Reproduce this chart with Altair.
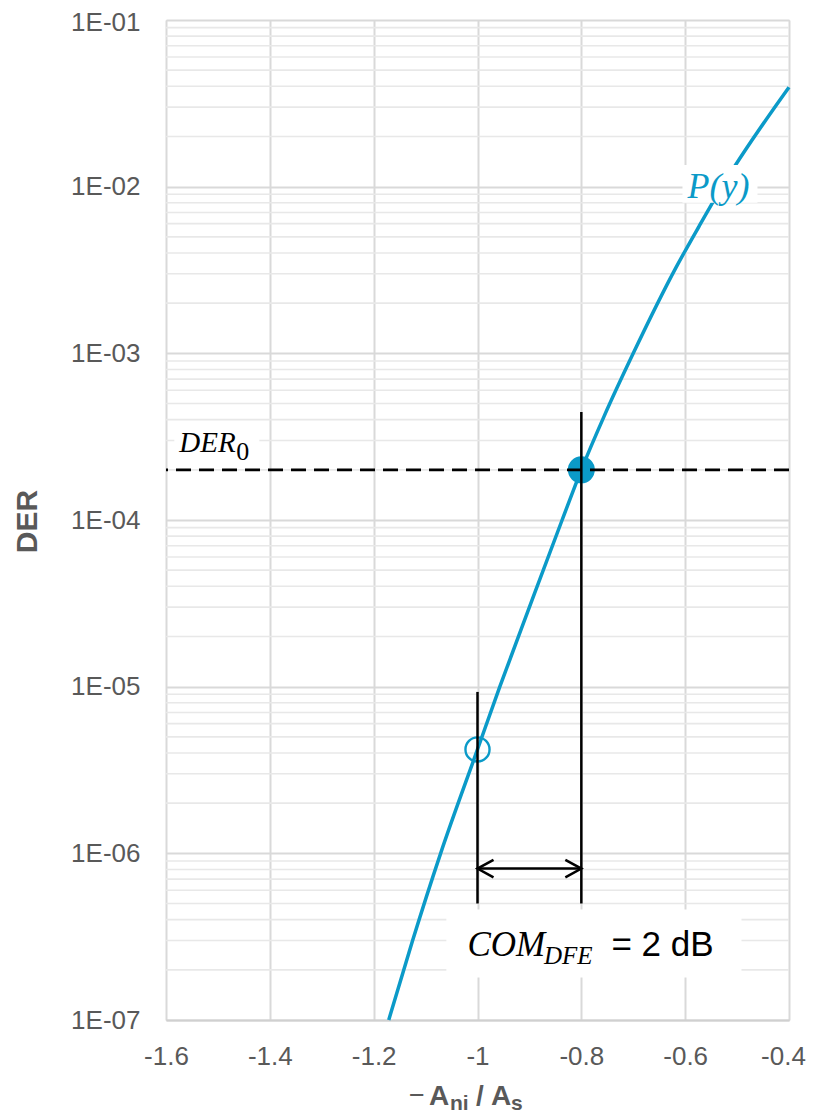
import altair as alt
import pandas as pd

# ---------------- data ----------------
curve_x = [-1.171, -1.125, -1.071, -1.000, -0.957, -0.900, -0.837, -0.800,
           -0.756, -0.700, -0.617, -0.573, -0.529, -0.400]
curve_y = [1.0e-7, 3.0e-7, 1.0e-6, 4.2e-6, 1.0e-5, 3.0e-5, 1.0e-4, 2.0e-4,
           4.2e-4, 1.0e-3, 3.3e-3, 5.8e-3, 1.0e-2, 3.95e-2]

x_ticks = [-1.6, -1.4, -1.2, -1.0, -0.8, -0.6, -0.4]
y_ticks = [1e-7, 1e-6, 1e-5, 1e-4, 1e-3, 1e-2, 1e-1]
minor_ticks = [m * d for d in y_ticks[:-1] for m in range(2, 10)]

der0 = 2e-4            # target DER
x_dfe = -0.8           # operating point (filled)
x_ref = -1.0           # reference point (open)
y_ref = 4.2e-6
vline_x = [-1.0, -0.8]
vline_top = [9.3e-6, 4.45e-4]
vline_bottom = [5.0e-7, 5.0e-7]
arrow_y = 8.1e-7

BLUE = "#0B9AC8"
GRID = "#d9d9d9"
MINOR = "#e8e8e8"
TXT = "#595959"

xs = alt.Scale(domain=[-1.6, -0.4], nice=False, zero=False)
ys = alt.Scale(type="log", domain=[1e-7, 1e-1], nice=False)

x_axis = alt.Axis(values=x_ticks, labelExpr="toString(datum.value)", grid=True,
                  gridColor=GRID, gridWidth=2, ticks=False, domain=True,
                  domainColor="#d0d0d0", domainWidth=2, labelFont="Liberation Sans",
                  labelFontSize=26, labelColor=TXT, labelPadding=23,
                  labelOffset={"condition": {"test": "datum.value > -0.45", "value": -6},
                               "value": 0},
                  labelFlush=False, labelOverlap=False, title=None)
y_axis = alt.Axis(values=y_ticks, labelExpr="'1E-0' + round(-log(datum.value)/LN10)",
                  grid=True, gridColor=GRID, gridWidth=2, ticks=False, domain=False,
                  labelFont="Liberation Sans", labelFontSize=26, labelColor=TXT,
                  labelPadding=26, labelFlush=False, labelOverlap=False,
                  labelOffset={"condition": {"test": "datum.value > 0.05", "value": 2},
                               "value": 0},
                  title="DER", titleFont="Liberation Sans", titleFontSize=30,
                  titleFontWeight="bold", titleColor=TXT, titleX=-139, titleY=501,
                  titleAngle=270, titleAlign="center", titleBaseline="middle")


def X(f="x"):
    return alt.X(f + ":Q", scale=xs, axis=x_axis)


def Y(f="y"):
    return alt.Y(f + ":Q", scale=ys, axis=y_axis)


curve_df = pd.DataFrame({"x": curve_x, "y": curve_y})

minor_layer = alt.Chart(pd.DataFrame({"y": minor_ticks})).mark_rule(
    color=MINOR, strokeWidth=1.6).encode(y=Y())

curve_layer = alt.Chart(curve_df).mark_line(
    color=BLUE, strokeWidth=3.5, interpolate="monotone").encode(x=X(), y=Y())

filled_pt = alt.Chart(pd.DataFrame({"x": [x_dfe], "y": [der0]})).mark_point(
    filled=True, color=BLUE, size=730, opacity=1, shape="circle").encode(x=X(), y=Y())
open_pt = alt.Chart(pd.DataFrame({"x": [x_ref], "y": [y_ref]})).mark_point(
    filled=False, color=BLUE, size=580, opacity=1, strokeWidth=2.4,
    shape="circle").encode(x=X(), y=Y())

dashed = alt.Chart(pd.DataFrame({"y": [der0]})).mark_rule(
    color="black", strokeWidth=2.6, strokeDash=[15, 8]).encode(y=Y())

vlines = alt.Chart(pd.DataFrame({"x": vline_x, "y": vline_bottom, "y2": vline_top})).mark_rule(
    color="black", strokeWidth=2.5).encode(x=X(), y=Y(), y2="y2:Q")

arrow_line = alt.Chart(pd.DataFrame({"x": [vline_x[0]], "x2": [vline_x[1]], "y": [arrow_y]})).mark_rule(
    color="black", strokeWidth=2.5).encode(x=X(), x2="x2:Q", y=Y())
head_l = alt.Chart(pd.DataFrame({"x": [vline_x[0]], "y": [arrow_y]})).mark_point(
    shape="M2,-1.1L0,0L2,1.1", size=256, filled=False, stroke="black", strokeWidth=2.5,
    opacity=1).encode(x=X(), y=Y())
head_r = alt.Chart(pd.DataFrame({"x": [vline_x[1]], "y": [arrow_y]})).mark_point(
    shape="M-2,-1.1L0,0L-2,1.1", size=256, filled=False, stroke="black", strokeWidth=2.5,
    opacity=1).encode(x=X(), y=Y())

# white label boxes (data coordinates)
boxes = alt.Chart(pd.DataFrame({
    "x": [-0.6052, -1.5840, -1.0600],
    "x2": [-0.4607, -1.4202, -0.4915],
    "y": [1.35e-2, 3.7e-4, 4.6e-7],
    "y2": [8.0e-3, 2.25e-4, 1.8e-7],
})).mark_rect(color="white", opacity=1).encode(x=X(), x2="x2:Q", y=Y(), y2="y2:Q")


def dtext(txt, x, y, size, font="Liberation Serif", style="italic", weight="normal",
          color="black"):
    return alt.Chart(pd.DataFrame({"x": [x], "y": [y], "t": [txt]})).mark_text(
        align="left", baseline="middle", font=font, fontSize=size, fontStyle=style,
        fontWeight=weight, color=color).encode(x=X(), y=Y(), text="t:N")


def ptext(txt, px, py, size, weight="bold", font="Liberation Sans", baseline="alphabetic"):
    return alt.Chart(pd.DataFrame({"t": [txt]})).mark_text(
        align="left", baseline=baseline, font=font, fontSize=size, fontWeight=weight,
        color=TXT).encode(x=alt.value(px), y=alt.value(py), text="t:N")


texts = [
    dtext("P(y)", -0.5956, 1.0e-2, 36, color=BLUE),
    dtext("DER", -1.5744, 2.9e-4, 29),
    dtext("0", -1.4646, 2.56e-4, 26, style="normal"),
    dtext("COM", -1.0195, 2.82e-7, 35),
    dtext("DFE", -0.8720, 2.42e-7, 25),
    dtext("= 2 dB", -0.742, 2.82e-7, 35, font="Liberation Sans", style="normal"),
    # x-axis title: −A_ni / A_s
    ptext("\u2212", 243, 1084, 27, weight="normal"),
    ptext("A", 263, 1085, 28),
    ptext("ni", 284, 1090, 21),
    ptext("/", 310, 1085, 28),
    ptext("A", 325, 1085, 28),
    ptext("s", 345, 1090, 21),
]

chart = alt.layer(
    minor_layer, curve_layer, filled_pt, open_pt, dashed, vlines, arrow_line,
    head_l, head_r, boxes, *texts
).properties(
    width=623, height=1000,
    padding={"left": 158, "top": 12, "right": 18, "bottom": 93},
    autosize=alt.AutoSizeParams(type="none"),
).configure_view(stroke=None).configure(background="white")

chart.save("out.html", embed_options={"renderer": "svg", "actions": False})
